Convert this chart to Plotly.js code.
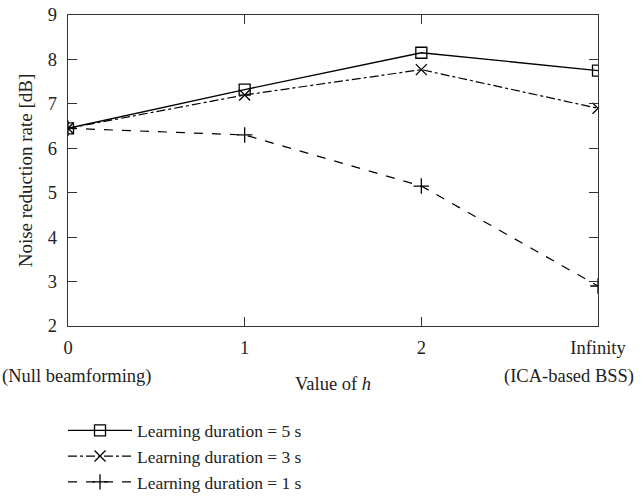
<!DOCTYPE html>
<html>
<head>
<meta charset="utf-8">
<script src="https://cdn.plot.ly/plotly-3.0.1.min.js"></script>
<style>body{margin:0;padding:0;background:#fff}</style>
</head>
<body>
<div id="chart" style="width:643px;height:498px;"></div>
<script>
const hPositions = [0, 1, 2, 3];
const hTickLabels = ["0", "1", "2", "Infinity"];
const seriesNames = ["Learning duration = 5 s", "Learning duration = 3 s", "Learning duration = 1 s"];
const dur5 = [6.45, 7.32, 8.15, 7.75];
const dur3 = [6.45, 7.20, 7.77, 6.90];
const dur1 = [6.45, 6.30, 5.15, 2.90];

const font = "Liberation Serif, Times New Roman, serif";
const txt = "#222";

const traces = [
  {x: hPositions, y: dur5, name: seriesNames[0], mode: "lines+markers",
   line: {color: "#000", width: 1.3, dash: "solid"},
   marker: {symbol: "square-open", size: 11, color: "#000", line: {width: 1.3, color: "#000"}}},
  {x: hPositions, y: dur3, name: seriesNames[1], mode: "lines+markers",
   line: {color: "#000", width: 1.2, dash: "dashdot"},
   marker: {symbol: "x-thin-open", size: 11, color: "#000", line: {width: 1.3, color: "#000"}}},
  {x: hPositions, y: dur1, name: seriesNames[2], mode: "lines+markers",
   line: {color: "#000", width: 1.2, dash: "dash"},
   marker: {symbol: "cross-thin-open", size: 11, color: "#000", line: {width: 1.3, color: "#000"}}}
];

const layout = {
  width: 643, height: 498,
  margin: {l: 68, r: 45, t: 15, b: 172, autoexpand: false},
  paper_bgcolor: "#fff", plot_bgcolor: "#fff",
  font: {family: font, size: 18, color: txt},
  showlegend: true,
  legend: {x: -0.0094, y: -0.278, xanchor: "left", yanchor: "top", itemwidth: 64,
           font: {family: font, size: 17.5, color: txt}, tracegroupgap: 0,
           bgcolor: "rgba(0,0,0,0)"},
  xaxis: {
    range: [0, 3], tickvals: hPositions, ticktext: hTickLabels,
    ticks: "inside", ticklen: 9, tickcolor: "#333", mirror: "ticks",
    showline: true, linecolor: "#333", linewidth: 1.3, showgrid: false, zeroline: false,
    ticklabelstandoff: 4,
    tickfont: {family: font, size: 18.5, color: txt},
    title: {text: "Value of <i>h</i>", font: {family: font, size: 18.5, color: txt}, standoff: 20}
  },
  yaxis: {
    range: [2, 9], dtick: 1,
    ticks: "inside", ticklen: 9, tickcolor: "#333", mirror: "ticks",
    showline: true, linecolor: "#333", linewidth: 1.3, showgrid: false, zeroline: false,
    ticklabelstandoff: 6,
    tickfont: {family: font, size: 18.5, color: txt},
    title: {text: "Noise reduction rate [dB]", font: {family: font, size: 19, color: txt}, standoff: 10}
  },
  annotations: [
    {xref: "paper", yref: "paper", x: 0.017, y: -0.162, xanchor: "center", yanchor: "middle",
     text: "(Null beamforming)", showarrow: false, font: {family: font, size: 18.5, color: txt}},
    {xref: "paper", yref: "paper", x: 0.945, y: -0.162, xanchor: "center", yanchor: "middle",
     text: "(ICA-based BSS)", showarrow: false, font: {family: font, size: 18.5, color: txt}}
  ]
};

Plotly.newPlot("chart", traces, layout, {displayModeBar: false, staticPlot: true});
</script>
</body>
</html>
